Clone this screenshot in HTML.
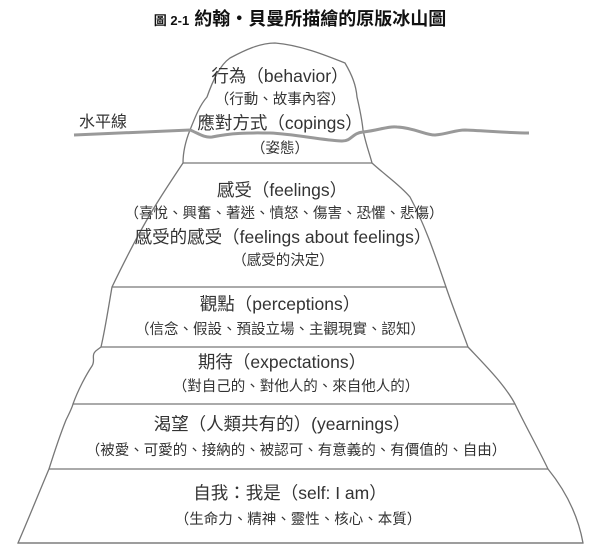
<!DOCTYPE html>
<html><head><meta charset="utf-8"><style>
html,body{margin:0;padding:0;background:#fff;}
svg text{font-family:"Liberation Sans","Noto Sans CJK TC",sans-serif;fill:#333;text-anchor:middle;}
</style></head><body>
<svg width="600" height="552" viewBox="0 0 600 552" xmlns="http://www.w3.org/2000/svg">
<text x="300" y="25" style="font-size:18px;font-weight:bold;fill:#111"><tspan style="font-size:13px">圖 2-1</tspan>  約翰・貝曼所描繪的原版冰山圖</text>
<g fill="none" stroke="#777" stroke-width="1.3">
<path d="M183,163 C183,150 186,140 190,130 C196,115 200,105 207,97 C213,80 220,65 230,58 C245,50 260,43 275,43 C300,45 325,55 345,63 C352,75 356,85 357,97 C360,110 362,120 363,130 C366,145 370,155 372,163 C385,175 400,185 410,197 C425,225 435,255 446,287 C452,305 460,325 468,347 C485,365 505,385 515,404 C525,425 538,448 548,469 C565,490 578,515 583,543 L18,543 C28,520 38,495 49,469 C55,450 62,430 66,420 C70,412 72,408 73,404 C78,390 86,375 92,366 C96,360 90,355 97,350 L101,347 C105,330 108,310 112,287 C125,260 140,230 157,203 C165,190 175,175 183,163 Z"/>
<line x1="183" y1="163" x2="372" y2="163"/>
<line x1="112" y1="287" x2="446" y2="287"/>
<line x1="101" y1="347" x2="468" y2="347"/>
<line x1="73" y1="404" x2="515" y2="404"/>
<line x1="49" y1="469" x2="548" y2="469"/>
<line x1="18" y1="543" x2="583" y2="543"/>
</g>
<path d="M74,135 L190,130 C198,133 204,138 212,137 C235,132 255,133 270,133 C295,134 320,140 342,141 C352,141 352,133 363,132 C380,130 388,126 397,127 C415,128 425,135 435,135 C448,134 455,130 465,130 C490,131 510,133 529,133" fill="none" stroke="#999" stroke-width="3"/>
<text x="103" y="127" style="font-size:16px">水平線</text>
<g style="font-size:17.5px">
<text x="280" y="82">行為（behavior）</text>
<text x="280" y="129">應對方式（copings）</text>
<text x="282" y="196">感受（feelings）</text>
<text x="283" y="243">感受的感受（feelings about feelings）</text>
<text x="280" y="310">觀點（perceptions）</text>
<text x="282" y="368">期待（expectations）</text>
<text x="282" y="430">渴望（人類共有的）(yearnings）</text>
<text x="290" y="499">自我：我是（self: I am）</text>
</g>
<g style="font-size:14.5px">
<text x="280" y="104">（行動、故事內容）</text>
<text x="280" y="153">（姿態）</text>
<text x="284" y="218">（喜悅、興奮、著迷、憤怒、傷害、恐懼、悲傷）</text>
<text x="283" y="265">（感受的決定）</text>
<text x="280" y="334">（信念、假設、預設立場、主觀現實、認知）</text>
<text x="296" y="391">（對自己的、對他人的、來自他人的）</text>
<text x="296" y="455">（被愛、可愛的、接納的、被認可、有意義的、有價值的、自由）</text>
<text x="298" y="524">（生命力、精神、靈性、核心、本質）</text>
</g>
</svg>
</body></html>
